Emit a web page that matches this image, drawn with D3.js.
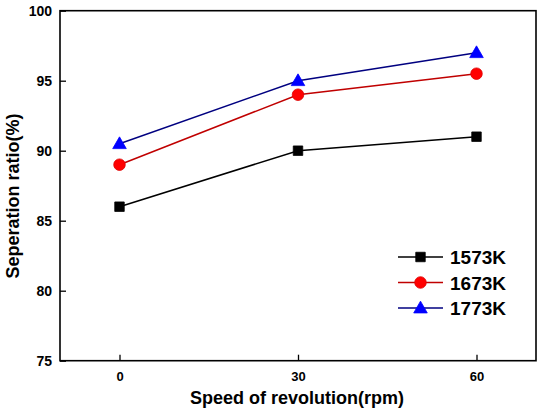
<!DOCTYPE html>
<html><head><meta charset="utf-8">
<script src="https://cdn.jsdelivr.net/npm/d3@7"></script>
<style>
body{margin:0;background:#fff;}
svg{display:block;font-family:Arial,"Liberation Sans",sans-serif;font-weight:bold;}
</style></head>
<body><svg id="c" width="541" height="416"></svg>
<script>
const speeds = [0, 30, 60];
const xTicks = [0, 30, 60];
const yTicks = [75, 80, 85, 90, 95, 100];
const series = [
  {name: "1573K", values: [86, 90, 91], line: "#000000", fill: "#000000", shape: "square"},
  {name: "1673K", values: [89, 94, 95.5], line: "#c00000", fill: "#ff0000", shape: "circle"},
  {name: "1773K", values: [90.5, 95, 97], line: "#000080", fill: "#0000ff", shape: "triangle"}
];
const xTitle = "Speed of revolution(rpm)";
const yTitle = "Seperation ratio(%)";

const L = 60, T = 10.7, R = 536, B = 360.7;
const svg = d3.select("#c");
const x = d3.scaleLinear().domain([-10, 70]).range([L, R]);
const y = d3.scaleLinear().domain([75, 100]).range([B, T]);

// frame
svg.append("rect").attr("x", L).attr("y", T).attr("width", R - L).attr("height", B - T)
  .attr("fill", "none").attr("stroke", "#000").attr("stroke-width", 1.6);

const xa = svg.append("g").attr("transform", `translate(0,${B})`)
  .call(d3.axisBottom(x).tickValues(xTicks).tickSizeInner(-6).tickSizeOuter(0).tickPadding(11));
xa.select(".domain").remove();
xa.selectAll("line").attr("stroke-width", 1.3);
xa.selectAll("text").attr("font-size", 13).attr("font-weight", "bold").attr("font-family", "Arial,'Liberation Sans',sans-serif").attr("fill", "#000");

const ya = svg.append("g").attr("transform", `translate(${L},0)`)
  .call(d3.axisLeft(y).tickValues(yTicks).tickSizeInner(-6).tickSizeOuter(0).tickPadding(8));
ya.select(".domain").remove();
ya.selectAll("line").attr("stroke-width", 1.3);
ya.selectAll("text").attr("font-size", 14).attr("font-weight", "bold").attr("font-family", "Arial,'Liberation Sans',sans-serif").attr("fill", "#000");

svg.append("text").attr("x", 297).attr("y", 404).attr("text-anchor", "middle")
  .attr("font-size", 18).text(xTitle);
svg.append("text").attr("transform", "translate(19,196) rotate(-90)").attr("text-anchor", "middle")
  .attr("font-size", 18).text(yTitle);

const sym = {square: d3.symbolSquare, circle: d3.symbolCircle, triangle: d3.symbolTriangle};
const size = {square: 90, circle: 105, triangle: 80};
function marker(g, s, cx, cy) {
  g.append("path").attr("d", d3.symbol().type(sym[s.shape]).size(size[s.shape])())
    .attr("transform", `translate(${cx},${cy + (s.shape === "triangle" ? 1 : 0)})`)
    .attr("fill", s.fill).attr("stroke", s.shape === "circle" ? "#d00" : s.fill).attr("stroke-width", 0.8);
}
const line = d3.line().x((d, i) => x(speeds[i])).y(d => y(d));
series.forEach(s => {
  svg.append("path").datum(s.values).attr("d", line).attr("fill", "none")
    .attr("stroke", s.line).attr("stroke-width", 1.5);
  const g = svg.append("g");
  s.values.forEach((v, i) => marker(g, s, x(speeds[i]), y(v)));
});

// legend
const lg = svg.append("g");
series.forEach((s, i) => {
  const cy = 257 + i * 25.5;
  lg.append("line").attr("x1", 398).attr("x2", 443).attr("y1", cy).attr("y2", cy)
    .attr("stroke", s.line).attr("stroke-width", 1.5);
  marker(lg, s, 420.5, cy);
  lg.append("text").attr("x", 450).attr("y", cy + 7).attr("font-size", 19).text(s.name);
});
</script></body></html>
